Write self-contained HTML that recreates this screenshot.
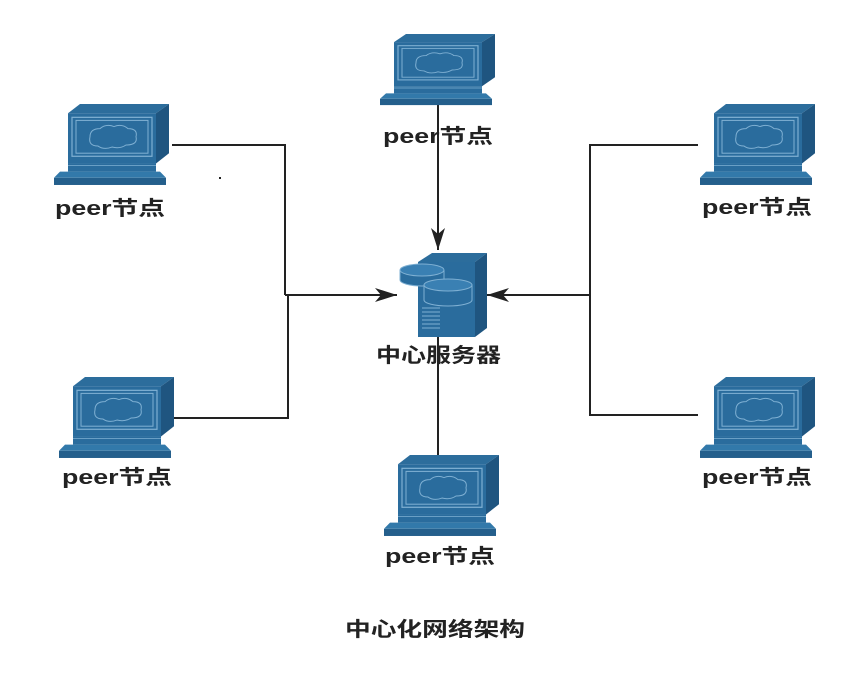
<!DOCTYPE html>
<html><head><meta charset="utf-8"><style>
body{margin:0;background:#fff;}
svg text{font-family:"Liberation Sans","Noto Sans CJK SC",sans-serif;font-weight:bold;fill:#222;}
</style></head><body>
<svg width="867" height="677" viewBox="0 0 867 677" xmlns="http://www.w3.org/2000/svg">
<defs>
<symbol id="pc" viewBox="0 0 117 80" preserveAspectRatio="none">
<polygon points="16,9 28,0 117,0 104,9" fill="#2c6d9c"/>
<polygon points="104,9 117,0 117,48 104,58" fill="#1f5580"/>
<rect x="16" y="9" width="88" height="49" fill="#2a6c9d"/>
<rect x="20" y="13" width="80" height="38" fill="none" stroke="#7fb0d3" stroke-width="1.2"/>
<rect x="24" y="16" width="72" height="32" fill="none" stroke="#7fb0d3" stroke-width="1"/>
<path d="M38,32 q0,-8 10,-8 q6,-5 14,-2 q8,-3 14,2 q10,0 8,8 q2,8 -10,8 q-6,4 -14,2 q-8,3 -14,-1 q-10,0 -8,-9z" fill="none" stroke="#7fb0d3" stroke-width="1"/>
<rect x="16" y="58" width="88" height="8" fill="#2a6c9d"/>
<line x1="16" y1="60" x2="104" y2="60" stroke="#7fb0d3" stroke-width="0.8"/>
<polygon points="8,66 108,66 114,72 2,72" fill="#3279aa"/>
<rect x="2" y="72" width="112" height="7" fill="#245f8c"/>
</symbol>
<marker id="ar2" markerWidth="22" markerHeight="14" refX="22" refY="7" orient="auto" markerUnits="userSpaceOnUse">
<path d="M0,0 L22,7 L0,14 L6,7 z" fill="#222"/>
</marker>
</defs>
<g stroke="#222" stroke-width="2" fill="none">
<polyline points="172,145 285,145 285,295"/>
<polyline points="172,418 288,418 288,295"/>
<line x1="285" y1="295" x2="397" y2="295" marker-end="url(#ar2)"/>
<polyline points="698,145 590,145 590,415 698,415"/>
<line x1="590" y1="295" x2="487" y2="295" marker-end="url(#ar2)"/>
<line x1="438" y1="105" x2="438" y2="250" marker-end="url(#ar2)"/>
<line x1="438" y1="455" x2="438" y2="330"/>
</g>
<rect x="219" y="177" width="2" height="2" fill="#222"/>
<use href="#pc" x="378" y="34" width="117" height="72"/>
<use href="#pc" x="52" y="104" width="117" height="82"/>
<use href="#pc" x="698" y="104" width="117" height="82"/>
<use href="#pc" x="57" y="377" width="117" height="82"/>
<use href="#pc" x="698" y="377" width="117" height="82"/>
<use href="#pc" x="382" y="455" width="117" height="82"/>
<!-- server -->
<polygon points="418,262 432,253 487,253 475,262" fill="#2c6d9c"/>
<polygon points="475,262 487,253 487,328 475,337" fill="#1f5580"/>
<rect x="418" y="262" width="57" height="75" fill="#2a6c9d"/>
<g stroke="#7fb0d3" stroke-width="1">
<line x1="422" y1="308" x2="440" y2="308"/><line x1="422" y1="312" x2="440" y2="312"/><line x1="422" y1="316" x2="440" y2="316"/><line x1="422" y1="320" x2="440" y2="320"/><line x1="422" y1="324" x2="440" y2="324"/><line x1="422" y1="328" x2="440" y2="328"/>
</g>
<path d="M400,270 v10 a22,6 0 0 0 44,0 v-10" fill="#2a6c9d" stroke="#7fb0d3"/>
<ellipse cx="422" cy="270" rx="22" ry="6" fill="#3a80b3" stroke="#7fb0d3"/>
<path d="M424,285 v15 a24,6 0 0 0 48,0 v-15" fill="#2a6c9d" stroke="#7fb0d3"/>
<ellipse cx="448" cy="285" rx="24" ry="6" fill="#3a80b3" stroke="#7fb0d3"/>
<g font-size="20">
<text x="383" y="143" textLength="110" lengthAdjust="spacingAndGlyphs">peer节点</text>
<text x="55" y="215" textLength="110" lengthAdjust="spacingAndGlyphs">peer节点</text>
<text x="702" y="214" textLength="110" lengthAdjust="spacingAndGlyphs">peer节点</text>
<text x="62" y="484" textLength="110" lengthAdjust="spacingAndGlyphs">peer节点</text>
<text x="702" y="484" textLength="110" lengthAdjust="spacingAndGlyphs">peer节点</text>
<text x="385" y="563" textLength="110" lengthAdjust="spacingAndGlyphs">peer节点</text>
<text x="376" y="362" textLength="125" lengthAdjust="spacingAndGlyphs">中心服务器</text>
<text x="345" y="636" textLength="180" lengthAdjust="spacingAndGlyphs">中心化网络架构</text>
</g>
</svg>
</body></html>
